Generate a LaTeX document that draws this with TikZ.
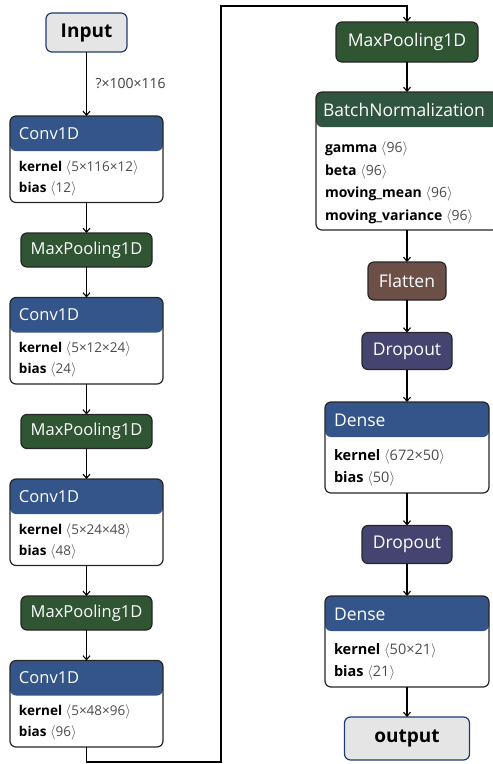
\documentclass[tikz,border=0pt]{standalone}
\usepackage{fontspec}
\setmainfont{Open Sans}
\usepackage{tikz}
\usetikzlibrary{positioning}
\usetikzlibrary{arrows.meta}
\definecolor{convblue}{HTML}{34558A}
\definecolor{poolgreen}{HTML}{2F5533}
\definecolor{normgreen}{HTML}{2F5540}
\definecolor{shapebrown}{HTML}{6C4F47}
\definecolor{dropviolet}{HTML}{454470}
\definecolor{ioblue}{HTML}{1F3C6E}
\newcommand{\tshape}[1]{{\color{black!70}$\langle$#1$\rangle$}}
\tikzset{node distance=30.5pt,
	every node/.style={inner sep=0pt, outer sep=0pt},
	io/.style={
		draw=ioblue,
		fill=gray!20,
		line width=1.2pt,
		rounded corners=6pt,
		font=\bfseries\fontsize{19}{22}\selectfont},
	op/.style={
		draw=black!85,
		fill=#1,
		line width=1.2pt,
		rounded corners=6pt,
		text=white,
		font=\fontsize{16.5}{19}\selectfont},
	layer/.style={
		draw=black!85,
		fill=white,
		line width=1.2pt,
		rounded corners=6pt,
		path picture={\fill[#1] (path picture bounding box.north west) rectangle ([yshift=-35pt]path picture bounding box.north east);}},
	title/.style={anchor=west, text=white, font=\fontsize{16.5}{19}\selectfont},
	params/.style={anchor=north west, align=left, font=\fontsize{13.5}{21}\selectfont},
	flow/.style={->, line width=1.1pt},
	>={Straight Barb[length=4pt,width=7pt]}
}

\begin{document}
\begin{tikzpicture}
	\useasboundingbox (0,0) rectangle (493pt,-764pt);
	
	% left column
	\node[io, minimum width=81pt, minimum height=39pt] (input) at (86.5pt,-32.5pt) {Input};
	\node[layer=convblue, minimum width=153pt, minimum height=86.5pt, below=64pt of input] (conv1) {};
	\node[title] (conv1t) at ([xshift=9pt,yshift=-17.5pt]conv1.north west) {Conv1D};
	\node[params] (conv1p) at ([xshift=9pt,yshift=-44.5pt]conv1.north west) {\textbf{kernel} \tshape{5×116×12}\\\textbf{bias} \tshape{12}};
	\node[op=poolgreen, minimum width=131pt, minimum height=34pt, below=of conv1] (pool1) {MaxPooling1D};
	\node[layer=convblue, minimum width=153pt, minimum height=86.5pt, below=of pool1] (conv2) {};
	\node[title] (conv2t) at ([xshift=9pt,yshift=-17.5pt]conv2.north west) {Conv1D};
	\node[params] (conv2p) at ([xshift=9pt,yshift=-44.5pt]conv2.north west) {\textbf{kernel} \tshape{5×12×24}\\\textbf{bias} \tshape{24}};
	\node[op=poolgreen, minimum width=131pt, minimum height=34pt, below=of conv2] (pool2) {MaxPooling1D};
	\node[layer=convblue, minimum width=153pt, minimum height=86.5pt, below=of pool2] (conv3) {};
	\node[title] (conv3t) at ([xshift=9pt,yshift=-17.5pt]conv3.north west) {Conv1D};
	\node[params] (conv3p) at ([xshift=9pt,yshift=-44.5pt]conv3.north west) {\textbf{kernel} \tshape{5×24×48}\\\textbf{bias} \tshape{48}};
	\node[op=poolgreen, minimum width=131pt, minimum height=34pt, below=of conv3] (pool3) {MaxPooling1D};
	\node[layer=convblue, minimum width=153pt, minimum height=86.5pt, below=of pool3] (conv4) {};
	\node[title] (conv4t) at ([xshift=9pt,yshift=-17.5pt]conv4.north west) {Conv1D};
	\node[params] (conv4p) at ([xshift=9pt,yshift=-44.5pt]conv4.north west) {\textbf{kernel} \tshape{5×48×96}\\\textbf{bias} \tshape{96}};
	
	% right column
	\node[op=poolgreen, minimum width=142pt, minimum height=40pt, font=\fontsize{17.5}{20}\selectfont] (pool4) at (407pt,-42pt) {MaxPooling1D};
	\node[layer=normgreen, minimum width=182pt, minimum height=138pt, below=30pt of pool4] (norm) {};
	\node[title, font=\fontsize{17.5}{20}\selectfont] (normt) at ([xshift=7pt,yshift=-17.5pt]norm.north west) {BatchNormalization};
	\node[params, font=\fontsize{14}{22.5}\selectfont] (normp) at ([xshift=9pt,yshift=-50pt]norm.north west) {\textbf{gamma} \tshape{96}\\\textbf{beta} \tshape{96}\\\textbf{moving\_mean} \tshape{96}\\\textbf{moving\_variance} \tshape{96}};
	\node[op=shapebrown, minimum width=78pt, minimum height=38pt, font=\fontsize{17.5}{20}\selectfont, below=32pt of norm] (flat) {Flatten};
	\node[op=dropviolet, minimum width=90pt, minimum height=37pt, font=\fontsize{17.5}{20}\selectfont, below=32.5pt of flat] (drop1) {Dropout};
	\node[layer=convblue, minimum width=164pt, minimum height=91pt, below=32.5pt of drop1] (dense1) {};
	\node[title, font=\fontsize{17.5}{20}\selectfont] (dense1t) at ([xshift=9pt,yshift=-18pt]dense1.north west) {Dense};
	\node[params, font=\fontsize{14.5}{22}\selectfont] (dense1p) at ([xshift=9pt,yshift=-47.5pt]dense1.north west) {\textbf{kernel} \tshape{672×50}\\\textbf{bias} \tshape{50}};
	\node[op=dropviolet, minimum width=90pt, minimum height=38pt, font=\fontsize{17.5}{20}\selectfont, below=32.5pt of dense1] (drop2) {Dropout};
	\node[layer=convblue, minimum width=164pt, minimum height=91pt, below=32.5pt of drop2] (dense2) {};
	\node[title, font=\fontsize{17.5}{20}\selectfont] (dense2t) at ([xshift=9pt,yshift=-18pt]dense2.north west) {Dense};
	\node[params, font=\fontsize{14.5}{22}\selectfont] (dense2p) at ([xshift=9pt,yshift=-47.5pt]dense2.north west) {\textbf{kernel} \tshape{50×21}\\\textbf{bias} \tshape{21}};
	\node[io, minimum width=125pt, minimum height=43pt, below=30pt of dense2] (output) {output};
	
	\coordinate (turnlow) at (221pt,-762pt);
	\coordinate (turnhigh) at (221pt,-6pt);
	
	\draw[flow] (input) -- node[right=9pt, text=black!75, font=\fontsize{14}{16}\selectfont] {?×100×116} (conv1);
	\draw[flow] (conv1) -- (pool1);
	\draw[flow] (pool1) -- (conv2);
	\draw[flow] (conv2) -- (pool2);
	\draw[flow] (pool2) -- (conv3);
	\draw[flow] (conv3) -- (pool3);
	\draw[flow] (pool3) -- (conv4);
	\draw[flow] (conv4.south) |- (turnlow) -- (turnhigh) -| (pool4.north);
	\draw[flow] (pool4) -- (norm);
	\draw[flow] (norm) -- (flat);
	\draw[flow] (flat) -- (drop1);
	\draw[flow] (drop1) -- (dense1);
	\draw[flow] (dense1) -- (drop2);
	\draw[flow] (drop2) -- (dense2);
	\draw[flow] (dense2) -- (output);
	
\end{tikzpicture}
\end{document}
